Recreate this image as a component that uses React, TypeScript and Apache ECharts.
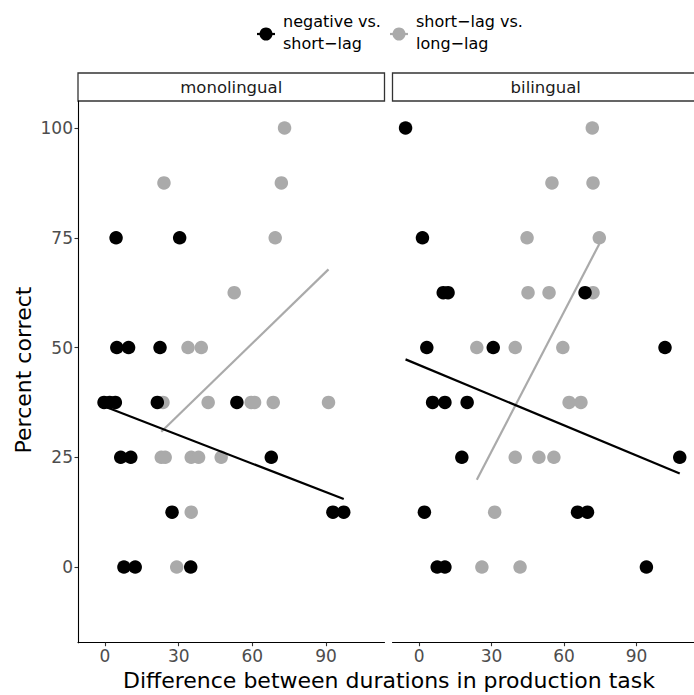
import React, { useEffect, useRef } from "react";
import * as echarts from "echarts";

// Data: [difference, percent correct]
const monoNeg: number[][] = [
  [4.5, 75], [30.4, 75],
  [4.8, 50], [9.6, 50], [22.4, 50],
  [-0.4, 37.5], [1.9, 37.5], [4.2, 37.5], [21.3, 37.5], [53.7, 37.5],
  [6.4, 25], [10.5, 25], [67.7, 25],
  [27.3, 12.5], [92.8, 12.5], [97.2, 12.5],
  [7.7, 0], [12.3, 0], [34.9, 0],
];
const monoShort: number[][] = [
  [73.1, 100], [24.0, 87.5], [71.8, 87.5], [69.3, 75], [52.6, 62.5],
  [33.8, 50], [39.2, 50],
  [23.6, 37.5], [42.0, 37.5], [59.5, 37.5], [60.9, 37.5], [68.5, 37.5], [91.0, 37.5],
  [22.9, 25], [24.5, 25], [35.1, 25], [38.1, 25], [47.3, 25],
  [35.1, 12.5], [29.2, 0],
];
const biNeg: number[][] = [
  [-5.6, 100], [1.4, 75], [10.0, 62.5], [12.0, 62.5], [68.7, 62.5],
  [3.2, 50], [30.7, 50], [101.8, 50],
  [5.6, 37.5], [10.7, 37.5], [19.9, 37.5],
  [17.7, 25], [107.9, 25],
  [2.2, 12.5], [65.6, 12.5], [69.7, 12.5],
  [7.5, 0], [10.7, 0], [94.1, 0],
];
const biShort: number[][] = [
  [71.7, 100], [55.0, 87.5], [72.0, 87.5], [44.7, 75], [74.6, 75],
  [45.1, 62.5], [53.8, 62.5], [72.0, 62.5],
  [23.9, 50], [39.8, 50], [59.5, 50],
  [62.1, 37.5], [67.0, 37.5],
  [39.8, 25], [49.6, 25], [55.8, 25],
  [31.3, 12.5], [26.0, 0], [41.8, 0],
];
// Linear fit end points
const monoNegFit: number[][] = [[-0.4, 36.6], [97.2, 15.5]];
const monoShortFit: number[][] = [[22.9, 30.8], [91.0, 67.8]];
const biNegFit: number[][] = [[-5.6, 47.3], [107.9, 21.3]];
const biShortFit: number[][] = [[23.9, 19.9], [74.6, 73.6]];

const xTicks = [0, 30, 60, 90];
const yTicks = [0, 25, 50, 75, 100];
const panels = ["monolingual", "bilingual"];
const groups = ["negative vs.\nshort\u2212lag", "short\u2212lag vs.\nlong\u2212lag"];

const BLACK = "#000000";
const GRAY = "#aaaaaa";
const FONT = "DejaVu Sans";

export default function App() {
  const ref = useRef<HTMLDivElement>(null);
  useEffect(() => {
    if (!ref.current) return;
    const chart = echarts.init(ref.current, undefined, { renderer: "svg" });
    const PW = 306.5;
    const grids = [
      { left: 78, top: 101, width: PW, height: 541.7 },
      { left: 392.5, top: 101, width: PW, height: 541.7 },
    ];
    const xAxis = grids.map((_, i) => ({
      type: "value",
      gridIndex: i,
      min: -11,
      max: 113.8,
      splitLine: { show: false },
      axisLine: { show: true, onZero: false, lineStyle: { color: "#000", width: 1.1 } },
      axisTick: { show: true, customValues: xTicks, length: 3.5, lineStyle: { color: "#333", width: 1.1 } },
      axisLabel: { show: true, customValues: xTicks, color: "#4d4d4d", fontSize: 17, fontFamily: FONT, margin: 5 },
    }));
    const yAxis = grids.map((_, i) => ({
      type: "value",
      gridIndex: i,
      min: -17.24,
      max: 106.15,
      splitLine: { show: false },
      axisLine: { show: i === 0, onZero: false, lineStyle: { color: "#000", width: 1.1 } },
      axisTick: { show: i === 0, customValues: yTicks, length: 3.5, lineStyle: { color: "#333", width: 1.1 } },
      axisLabel: { show: i === 0, customValues: yTicks, color: "#4d4d4d", fontSize: 17, fontFamily: FONT, margin: 5 },
    }));
    const pts = (data: number[][], color: string, gi: number, name: string) => ({
      type: "scatter", name, xAxisIndex: gi, yAxisIndex: gi, data,
      symbolSize: 13.5, itemStyle: { color, opacity: 1 }, z: color === BLACK ? 3 : 2,
    });
    const fit = (data: number[][], color: string, gi: number, name: string) => ({
      type: "line", name, xAxisIndex: gi, yAxisIndex: gi, data, showSymbol: false,
      symbol: "none", lineStyle: { color, width: 2.2 }, z: color === BLACK ? 5 : 4,
    });
    const series = [
      pts(monoShort, GRAY, 0, groups[1]),
      pts(monoNeg, BLACK, 0, groups[0]),
      fit(monoShortFit, GRAY, 0, groups[1]),
      fit(monoNegFit, BLACK, 0, groups[0]),
      pts(biShort, GRAY, 1, groups[1]),
      pts(biNeg, BLACK, 1, groups[0]),
      fit(biShortFit, GRAY, 1, groups[1]),
      fit(biNegFit, BLACK, 1, groups[0]),
    ];
    const strip = (i: number) => ({
      type: "group",
      children: [
        {
          type: "rect",
          shape: { x: grids[i].left, y: 73, width: PW, height: 28 },
          style: { fill: "#ffffff", stroke: "#333333", lineWidth: 1.3 },
        },
        {
          type: "text",
          x: grids[i].left + PW / 2,
          y: 87,
          style: { text: panels[i], fontSize: 16.5, fontFamily: FONT, fill: "#1a1a1a", align: "center", verticalAlign: "middle" },
        },
      ],
    });
    const legendItem = (cx: number, tx: number, color: string, label: string) => ({
      type: "group",
      children: [
        { type: "line", shape: { x1: cx - 9, y1: 34, x2: cx + 9, y2: 34 }, style: { stroke: color, lineWidth: 2.2 } },
        { type: "circle", shape: { cx, cy: 34, r: 6.5 }, style: { fill: color } },
        {
          type: "text", x: tx, y: 32,
          style: { text: label, fontSize: 16, lineHeight: 22, fontFamily: FONT, fill: "#000", align: "left", verticalAlign: "middle" },
        },
      ],
    });
    chart.setOption({
      animation: false,
      backgroundColor: "#ffffff",
      grid: grids,
      xAxis,
      yAxis,
      series,
      graphic: [
        strip(0),
        strip(1),
        legendItem(266, 283, BLACK, groups[0]),
        legendItem(399, 416, GRAY, groups[1]),
        {
          type: "text", x: 389, y: 680,
          style: { text: "Difference between durations in production task", fontSize: 22, fontFamily: FONT, fill: "#000", align: "center", verticalAlign: "middle" },
        },
        {
          type: "text", x: 23, y: 370, rotation: Math.PI / 2,
          style: { text: "Percent correct", fontSize: 22, fontFamily: FONT, fill: "#000", align: "center", verticalAlign: "middle" },
        },
      ],
    });
    return () => chart.dispose();
  }, []);
  return (
    <div
      ref={ref}
      style={{ position: "fixed", left: 0, top: 0, width: 694, height: 695, background: "#fff" }}
    />
  );
}
